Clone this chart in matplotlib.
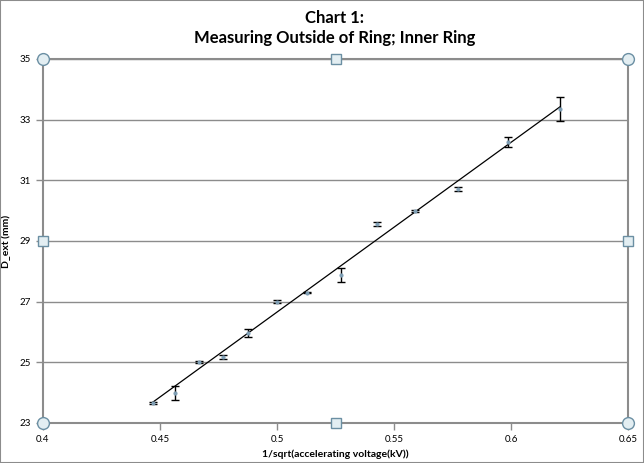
import numpy as np
import matplotlib.pyplot as plt
from matplotlib.patches import Rectangle

# data
inv_sqrt_v = [0.447, 0.4564, 0.4667, 0.4769, 0.4876, 0.5000, 0.5128,
              0.5274, 0.5427, 0.5590, 0.5774, 0.5987, 0.6210]
d_ext = [23.66, 23.99, 25.01, 25.18, 25.97, 26.99, 27.29,
         27.88, 29.56, 29.99, 30.71, 32.26, 33.35]
d_err = [0.03, 0.23, 0.02, 0.07, 0.13, 0.05, 0.02,
         0.23, 0.07, 0.03, 0.07, 0.17, 0.40]

x_ticks = [0.4, 0.45, 0.5, 0.55, 0.6, 0.65]
x_tick_labels = ['0.4', '0.45', '0.5', '0.55', '0.6', '0.65']
y_ticks = [23, 25, 27, 29, 31, 33, 35]

plt.rcParams['font.family'] = ['Lato', 'DejaVu Sans']

fig = plt.figure(figsize=(6.44, 4.63), dpi=100)
ax = fig.add_axes([43 / 644, 1 - 423 / 463, 585 / 644, 364 / 463])

# gridlines
ax.set_axisbelow(True)
ax.grid(axis='y', color='#8c8c8c', linewidth=1.0)

# error bars + markers
ax.errorbar(inv_sqrt_v, d_ext, yerr=d_err, fmt='o', markersize=2,
            color='#7f9fb5', ecolor='black', elinewidth=1.0, capsize=3,
            capthick=1.0, zorder=3)

# linear trendline
slope, intercept = np.polyfit(inv_sqrt_v, d_ext, 1)
xs = np.array([min(inv_sqrt_v), max(inv_sqrt_v)])
ax.plot(xs, slope * xs + intercept, color='black', linewidth=0.9, zorder=2)

ax.set_xlim(0.4, 0.65)
ax.set_ylim(23, 35)
ax.set_xticks(x_ticks)
ax.set_xticklabels(x_tick_labels)
ax.set_yticks(y_ticks)
ax.tick_params(labelsize=7, color='#8c8c8c', length=5, width=1)
for spine in ax.spines.values():
    spine.set_color('#8c8c8c')
    spine.set_linewidth(1.5)

ax.set_xlabel('1/sqrt(accelerating voltage(kV))', fontsize=7.5,
              fontweight='bold', labelpad=4)
ax.set_ylabel('D_ext (mm)', fontsize=7.5, fontweight='bold', labelpad=6)

fig.text(0.52, 1 - 18 / 463, 'Chart 1:', ha='center', va='center',
         fontsize=12, fontweight='bold')
fig.text(0.52, 1 - 38 / 463, 'Measuring Outside of Ring; Inner Ring',
         ha='center', va='center', fontsize=12, fontweight='bold')

# selection handles around the plot area
for hx, hy in [(0, 0), (1, 0), (0, 1), (1, 1)]:
    ax.plot(hx, hy, marker='o', markersize=8.5, markerfacecolor='#e3eef2',
            markeredgecolor='#6b8fa3', markeredgewidth=1,
            transform=ax.transAxes, clip_on=False, zorder=5)
for hx, hy in [(0.5, 0), (0.5, 1), (0, 0.5), (1, 0.5)]:
    ax.plot(hx, hy, marker='s', markersize=6.5, markerfacecolor='#e3eef2',
            markeredgecolor='#6b8fa3', markeredgewidth=1,
            transform=ax.transAxes, clip_on=False, zorder=5)

# chart border
fig.patches.append(Rectangle((0, 0), 1, 1, transform=fig.transFigure,
                             fill=False, edgecolor='#8c8c8c', linewidth=1.5))

fig.savefig('out.png', dpi=100)
